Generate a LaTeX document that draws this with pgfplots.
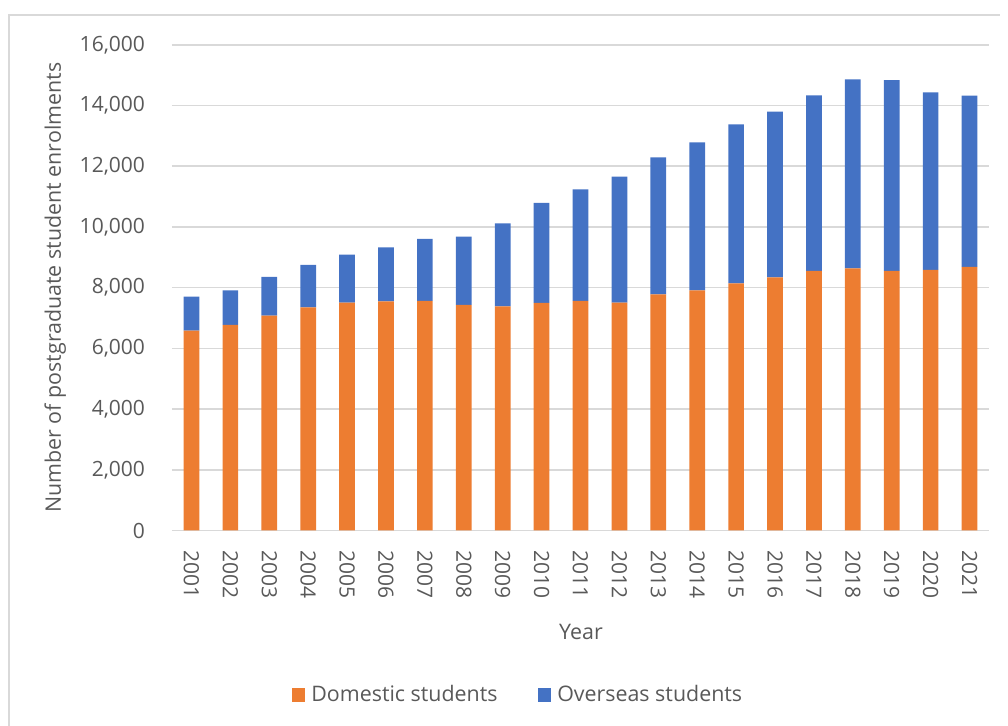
\documentclass[border=0pt]{standalone}
\usepackage{pgfplots}
\pgfplotsset{compat=1.18}
\usepackage{fontspec}
\setmainfont{Open Sans}
\definecolor{dom}{HTML}{ED7D31}
\definecolor{ovs}{HTML}{4472C4}
\definecolor{txt}{HTML}{595959}
\definecolor{gridc}{HTML}{D9D9D9}
\begin{document}
\begin{tikzpicture}
\path[use as bounding box] (0,0) rectangle (504pt,363pt);
\draw[gridc, line width=0.8pt] (4.5pt,0) -- (4.5pt,355.5pt) -- (500pt,355.5pt);
\begin{axis}[
  at={(86pt,97.75pt)}, anchor=south west,
  scale only axis, width=408.5pt, height=242.8pt,
  ybar stacked, bar width=7.85pt,
  xmin=-0.5, xmax=20.5, ymin=0, ymax=16000,
  xtick=data,
  xticklabels={2001,2002,2003,2004,2005,2006,2007,2008,2009,2010,2011,2012,2013,2014,2015,2016,2017,2018,2019,2020,2021},
  ytick={0,2000,...,16000},
  /pgf/number format/.cd, 1000 sep={,}, assume math mode=true,
  /pgfplots/.cd,
  scaled y ticks=false,
  major tick length=0pt,
  axis x line*=bottom, axis y line*=left,
  axis line style={-, draw=gridc, line width=0.8pt},
  y axis line style={draw=none},
  ymajorgrids, grid style={gridc, line width=0.8pt},
  tick label style={font=\fontsize{10.5}{12}\selectfont, text=txt},
  xticklabel style={rotate=-90, anchor=west},
  xticklabel shift=6.5pt,
  yticklabel shift=10pt,
  xlabel={Year}, ylabel={Number of postgraduate student enrolments},
  label style={font=\fontsize{10.7}{12}\selectfont, text=txt},
  xlabel style={at={(axis description cs:0.5006,-0.209)}, anchor=center},
  ylabel style={at={(axis description cs:-0.143,0.5)}, anchor=center, rotate=0},
  legend style={at={(axis description cs:0.4247,-0.339)}, anchor=center, draw=none, fill=none,
    legend columns=2, font=\fontsize{10.7}{12}\selectfont, text=txt,
    /tikz/every odd column/.append style={column sep=1pt},
    /tikz/every even column/.append style={column sep=18pt}},
  legend image code/.code={\fill[#1] (0pt,-3.4pt) rectangle (6.8pt,3.4pt);},
]
\addplot[fill=dom, draw=none] coordinates {
(0,6583) (1,6771) (2,7078) (3,7354) (4,7506) (5,7552) (6,7562) (7,7430) (8,7387) (9,7496)
(10,7562) (11,7506) (12,7782) (13,7914) (14,8145) (15,8343) (16,8550) (17,8639) (18,8550) (19,8583) (20,8682)};
\addlegendentry{Domestic students}
\addplot[fill=ovs, draw=none] coordinates {
(0,1120) (1,1143) (2,1275) (3,1394) (4,1582) (5,1779) (6,2043) (7,2251) (8,2735) (9,3295)
(10,3680) (11,4151) (12,4514) (13,4877) (14,5239) (15,5457) (16,5789) (17,6227) (18,6293) (19,5855) (20,5644)};
\addlegendentry{Overseas students}
\end{axis}
\end{tikzpicture}
\end{document}
